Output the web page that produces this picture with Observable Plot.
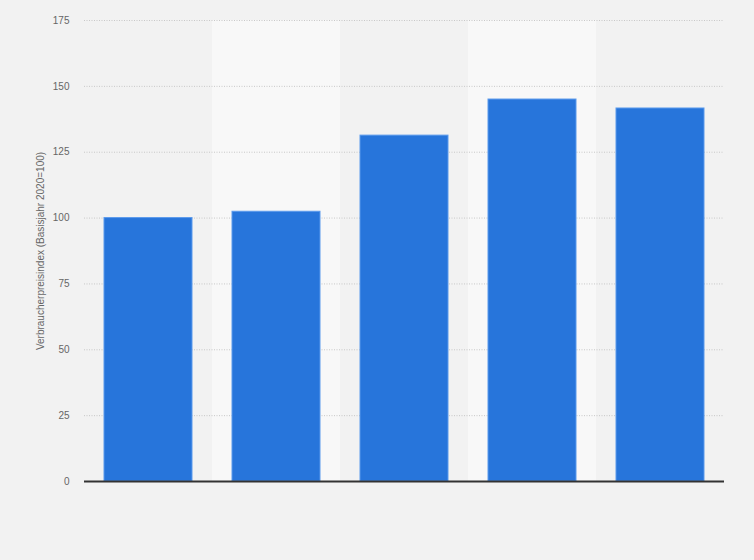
<!DOCTYPE html>
<html>
<head>
<meta charset="utf-8">
<script src="https://cdn.jsdelivr.net/npm/d3@7"></script>
<script src="https://cdn.jsdelivr.net/npm/@observablehq/plot@0.6"></script>
<style>
  html, body { margin: 0; padding: 0; background: #f2f2f2; }
  #chart { width: 754px; height: 560px; }
  svg { display: block; }
</style>
</head>
<body>
<div id="chart"></div>
<script>
const years = ["2020", "2021", "2022", "2023", "2024"];
const values = [100, 102.4, 131.3, 145.0, 141.6];
const yTicks = [0, 25, 50, 75, 100, 125, 150, 175];
const yLabel = "Verbraucherpreisindex (Basisjahr 2020=100)";

const data = years.map((y, i) => ({year: y, value: values[i]}));
const stripes = years.filter((y, i) => i % 2 === 1);

const chart = Plot.plot({
  width: 754,
  height: 560,
  marginLeft: 84,
  marginRight: 30,
  marginTop: 20,
  marginBottom: 79,
  style: {background: "#f2f2f2", fontFamily: "'Liberation Sans', Arial, sans-serif", fontSize: "10px", color: "#666"},
  x: {domain: years, paddingInner: 0.3125, paddingOuter: 0.15625, axis: null},
  y: {domain: [0, 175]},
  marks: [
    Plot.barY(stripes, {x: d => d, y1: 0, y2: 175, fill: "#f8f8f8", insetLeft: -20, insetRight: -20}),
    Plot.ruleY(yTicks.filter(t => t > 0), {stroke: "#c8c8c8", strokeDasharray: "1,1.5", strokeWidth: 1}),
    Plot.axisY({ticks: yTicks, tickSize: 0, tickPadding: 15, label: yLabel, labelAnchor: "center", labelArrow: "none", labelOffset: 48, fill: "#666"}),
    Plot.barY(data, {x: "year", y: "value", fill: "#2775db", stroke: "#5b9aec", strokeWidth: 1}),
    Plot.ruleY([0], {stroke: "#333", strokeWidth: 2})
  ]
});
document.getElementById("chart").appendChild(chart);
</script>
</body>
</html>
